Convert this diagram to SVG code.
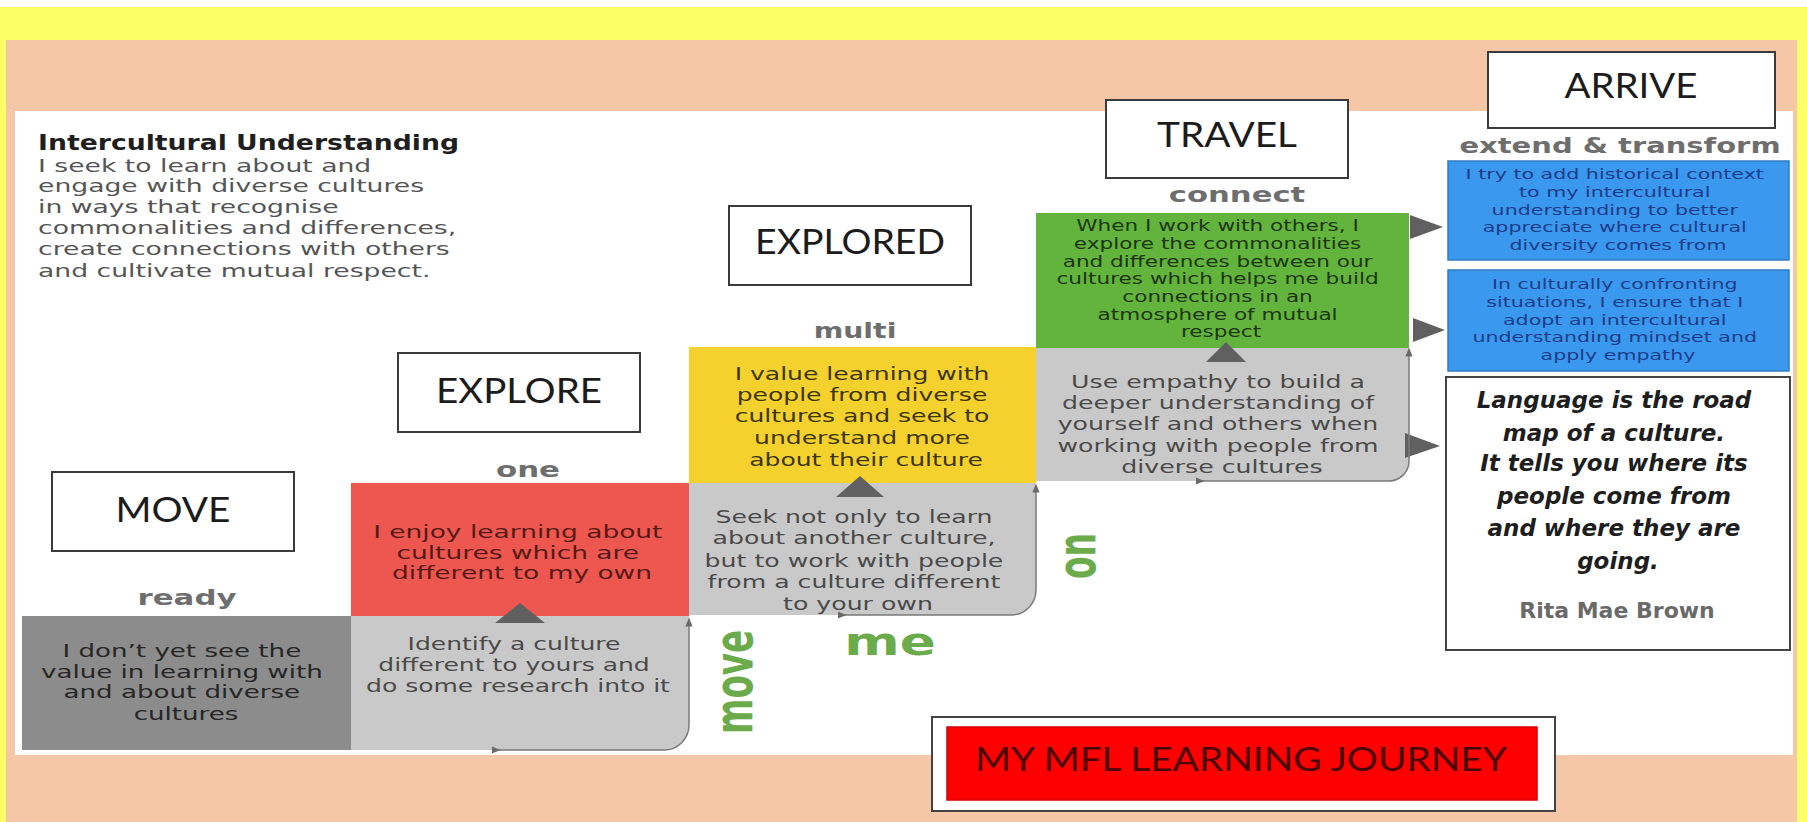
<svg xmlns="http://www.w3.org/2000/svg" width="1807" height="822" viewBox="0 0 1807 822">
<defs>
<style>
.cg{font-family:"DejaVu Sans","Liberation Sans",sans-serif;}
.bt{font-family:"DejaVu Sans","Liberation Sans",sans-serif;text-anchor:middle;}
.s18{font-size:18px;}
.s15{font-size:15px;}
.hd{font-family:"DejaVu Sans","Liberation Sans",sans-serif;font-weight:bold;font-size:21px;fill:#6e6e6e;text-anchor:middle;}
.lbl{font-family:Lato,"Open Sans","Liberation Sans",sans-serif;font-size:35px;fill:#1c1c1c;text-anchor:middle;}
.lbox{fill:#ffffff;stroke:#3a3a3a;stroke-width:2;}
.gw{font-family:"DejaVu Sans","Liberation Sans",sans-serif;font-weight:bold;fill:#6cab4c;text-anchor:middle;}
.quote{font-family:"DejaVu Sans","Liberation Sans",sans-serif;font-weight:bold;font-style:italic;font-size:23px;fill:#1e1e1e;text-anchor:middle;}
.tri{fill:#606060;}
.edge{fill:none;stroke:#7a7a7a;stroke-width:1.5;}
.blue{fill:#3a98ee;stroke:#2f7cc4;stroke-width:1.5;}
.bluet{font-family:"DejaVu Sans","Liberation Sans",sans-serif;font-size:14px;fill:#1d3d8a;text-anchor:middle;}
</style>
<marker id="ah" viewBox="0 0 10 10" refX="5" refY="5" markerWidth="6" markerHeight="6" orient="auto"><path d="M0,1 L10,5 L0,9 Z" fill="#6a6a6a"/></marker>
</defs>

<g id="background">
<rect width="1807" height="822" fill="#ffff66"/>
<rect width="1807" height="7" fill="#ffffff"/>
<rect x="6" y="40" width="1791" height="782" fill="#f5c7a7"/>
<rect x="15" y="111" width="1778" height="644" fill="#ffffff"/>
</g>

<g id="intro">
<g transform="translate(38 0) scale(1.27 1)"><text class="cg" font-weight="bold" font-size="21" fill="#1f1f1f" x="0" y="150">Intercultural Understanding</text></g>
<g transform="translate(38 0) scale(1.48 1)"><text class="cg" font-size="18" fill="#555555">
<tspan x="0" y="172">I seek to learn about and</tspan>
<tspan x="0" y="192">engage with diverse cultures</tspan>
<tspan x="0" y="213">in ways that recognise</tspan>
<tspan x="0" y="234">commonalities and differences,</tspan>
<tspan x="0" y="255">create connections with others</tspan>
<tspan x="0" y="277">and cultivate mutual respect.</tspan>
</text></g>
</g>

<g id="label-move"><rect class="lbox" x="52" y="472" width="242" height="79"/><text class="lbl" x="173" y="522" textLength="115" lengthAdjust="spacingAndGlyphs">MOVE</text></g>
<g id="label-explore"><rect class="lbox" x="398" y="353" width="242" height="79"/><text class="lbl" x="519" y="403" textLength="166" lengthAdjust="spacingAndGlyphs">EXPLORE</text></g>
<g id="label-explored"><rect class="lbox" x="729" y="206" width="242" height="79"/><text class="lbl" x="850" y="254" textLength="190" lengthAdjust="spacingAndGlyphs">EXPLORED</text></g>
<g id="label-travel"><rect class="lbox" x="1106" y="100" width="242" height="78"/><text class="lbl" x="1227" y="147" textLength="140" lengthAdjust="spacingAndGlyphs">TRAVEL</text></g>
<g id="label-arrive"><rect class="lbox" x="1488" y="52" width="287" height="76"/><text class="lbl" x="1631" y="98" textLength="133" lengthAdjust="spacingAndGlyphs">ARRIVE</text></g>

<g id="step-ready">
<g transform="translate(187 0) scale(1.47 1)"><text class="hd" x="0" y="605">ready</text></g>
<rect x="22" y="616" width="329" height="134" fill="#8c8c8c"/>
<g transform="translate(186 0) scale(1.45 1)"><text class="bt s18" fill="#262626">
<tspan x="0" y="657">I don’t yet see the</tspan>
<tspan x="0" y="678">value in learning with</tspan>
<tspan x="0" y="698">and about diverse</tspan>
<tspan x="0" y="720">cultures</tspan>
</text></g>
</g>

<g id="step-one">
<g transform="translate(528 0) scale(1.47 1)"><text class="hd" x="0" y="477">one</text></g>
<rect x="351" y="483" width="338" height="133" fill="#ee5650"/>
<g transform="translate(522 0) scale(1.47 1)"><text class="bt s18" fill="#561a16">
<tspan x="0" y="538">I enjoy learning about</tspan>
<tspan x="0" y="559">cultures which are</tspan>
<tspan x="0" y="579">different to my own</tspan>
</text></g>
<path d="M351,616 H689 V725 A25,25 0 0 1 664,750 H351 Z" fill="#c9c9c9"/>
<g transform="translate(518 0) scale(1.39 1)"><text class="bt s18" fill="#4a4a4a">
<tspan x="0" y="650">Identify a culture</tspan>
<tspan x="0" y="671">different to yours and</tspan>
<tspan x="0" y="692">do some research into it</tspan>
</text></g>
</g>

<g id="step-multi">
<g transform="translate(855 0) scale(1.35 1)"><text class="hd" x="0" y="338">multi</text></g>
<rect x="689" y="347" width="347" height="136" fill="#f5d12e"/>
<g transform="translate(866 0) scale(1.39 1)"><text class="bt s18" fill="#3d3510">
<tspan x="0" y="380">I value learning with</tspan>
<tspan x="0" y="401">people from diverse</tspan>
<tspan x="0" y="422">cultures and seek to</tspan>
<tspan x="0" y="444">understand more</tspan>
<tspan x="0" y="466">about their culture</tspan>
</text></g>
<path d="M689,483 H1036 V590 A25,25 0 0 1 1011,615 H689 Z" fill="#c9c9c9"/>
<g transform="translate(858 0) scale(1.4 1)"><text class="bt s18" fill="#4a4a4a">
<tspan x="0" y="523">Seek not only to learn</tspan>
<tspan x="0" y="544">about another culture,</tspan>
<tspan x="0" y="567">but to work with people</tspan>
<tspan x="0" y="588">from a culture different</tspan>
<tspan x="0" y="610">to your own</tspan>
</text></g>
</g>

<g id="step-connect">
<g transform="translate(1237 0) scale(1.46 1)"><text class="hd" x="0" y="202">connect</text></g>
<rect x="1036" y="213" width="373" height="135" fill="#62b43c"/>
<g transform="translate(1221 0) scale(1.44 1)"><text class="bt s15" fill="#1e3512">
<tspan x="0" y="231">When I work with others, I</tspan>
<tspan x="0" y="249">explore the commonalities</tspan>
<tspan x="0" y="267">and differences between our</tspan>
<tspan x="0" y="284">cultures which helps me build</tspan>
<tspan x="0" y="302">connections in an</tspan>
<tspan x="0" y="320">atmosphere of mutual</tspan>
<tspan x="0" y="337">respect</tspan>
</text></g>
<path d="M1036,348 H1409 V461 A20,20 0 0 1 1389,481 H1036 Z" fill="#c9c9c9"/>
<g transform="translate(1222 0) scale(1.4 1)"><text class="bt s18" fill="#4a4a4a">
<tspan x="0" y="388">Use empathy to build a</tspan>
<tspan x="0" y="409">deeper understanding of</tspan>
<tspan x="0" y="430">yourself and others when</tspan>
<tspan x="0" y="452">working with people from</tspan>
<tspan x="0" y="473">diverse cultures</tspan>
</text></g>
</g>

<g id="step-extend">
<g transform="translate(1620 0) scale(1.38 1)"><text class="hd" x="0" y="153">extend &amp; transform</text></g>
<rect class="blue" x="1448" y="161" width="341" height="99"/>
<g transform="translate(1618 0) scale(1.47 1)"><text class="bluet">
<tspan x="0" y="179">I try to add historical context</tspan>
<tspan x="0" y="197">to my intercultural</tspan>
<tspan x="0" y="215">understanding to better</tspan>
<tspan x="0" y="232">appreciate where cultural</tspan>
<tspan x="0" y="250">diversity comes from</tspan>
</text></g>
<rect class="blue" x="1448" y="270" width="341" height="101"/>
<g transform="translate(1618 0) scale(1.47 1)"><text class="bluet">
<tspan x="0" y="289">In culturally confronting</tspan>
<tspan x="0" y="307">situations, I ensure that I</tspan>
<tspan x="0" y="325">adopt an intercultural</tspan>
<tspan x="0" y="342">understanding mindset and</tspan>
<tspan x="0" y="360">apply empathy</tspan>
</text></g>
</g>

<g id="quote">
<rect x="1446" y="377" width="344" height="273" fill="#ffffff" stroke="#444444" stroke-width="2"/>
<text class="quote">
<tspan x="1618" y="408">Language is the road</tspan>
<tspan x="1618" y="441">map of a culture.</tspan>
<tspan x="1618" y="471">It tells you where its</tspan>
<tspan x="1618" y="504">people come from</tspan>
<tspan x="1618" y="536">and where they are</tspan>
<tspan x="1618" y="569">going.</tspan>
</text>
<text x="1617" y="618" font-family="'DejaVu Sans','Liberation Sans',sans-serif" font-weight="bold" font-size="22" fill="#6a6a6a" text-anchor="middle">Rita Mae Brown</text>
</g>

<g id="motto">
<text class="gw" font-size="34" y="9" transform="translate(738 682) scale(1.55 1) rotate(-90)">move</text>
<text class="gw" font-size="38" x="0" y="0" transform="translate(890 655) scale(1.4 1)">me</text>
<text class="gw" font-size="33" y="9" transform="translate(1081 556) scale(1.6 1) rotate(-90)">on</text>
</g>

<g id="banner">
<rect x="932" y="717" width="623" height="94" fill="#ffffff" stroke="#444444" stroke-width="2"/>
<rect x="947" y="727" width="590" height="73" fill="#ff0000" stroke="#d40000" stroke-width="1.5"/>
<text x="1241" y="771" font-family="Lato,'Open Sans','Liberation Sans',sans-serif" font-size="32" fill="#4a0505" text-anchor="middle" textLength="532" lengthAdjust="spacingAndGlyphs">MY MFL LEARNING JOURNEY</text>
</g>

<g id="connectors">
<polygon class="tri" points="520,603 545,623 495,623"/>
<polygon class="tri" points="860,476 884,497 836,497"/>
<polygon class="tri" points="1226,342 1246,362 1206,362"/>
<polygon class="tri" points="1443,227 1410,215 1410,239"/>
<polygon class="tri" points="1445,330 1413,318 1413,342"/>
<polygon class="tri" points="1440,446 1405,433 1405,458"/>
<path class="edge" d="M496,750 H664 A25,25 0 0 0 689,725 V622" marker-start="url(#ah)" marker-end="url(#ah)"/>
<path class="edge" d="M842,615 H1011 A25,25 0 0 0 1036,590 V488" marker-start="url(#ah)" marker-end="url(#ah)"/>
<path class="edge" d="M1200,481 H1389 A20,20 0 0 0 1409,461 V352" stroke="#5a5a5a" marker-start="url(#ah)" marker-end="url(#ah)"/>
</g>
</svg>
